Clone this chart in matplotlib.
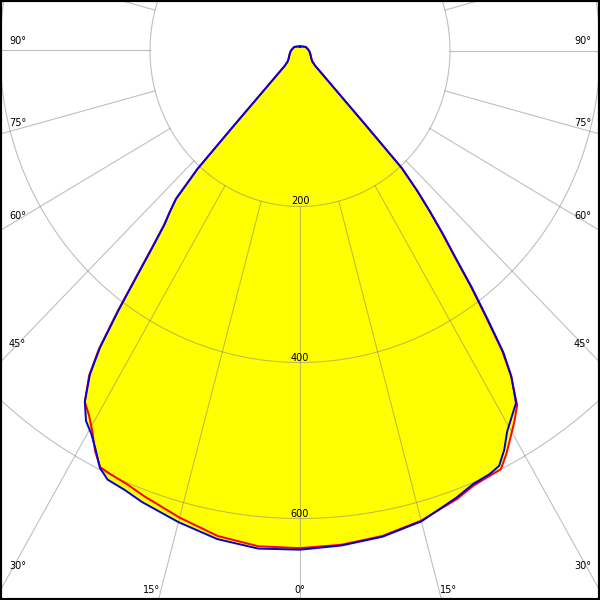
import numpy as np
import matplotlib
matplotlib.use('Agg')
import matplotlib.pyplot as plt

# gamma angles (deg, 0 = straight down) and luminous intensity (cd)
gamma = [0, 5, 10, 15, 20, 22.5, 25, 26.5, 28, 29.5, 31, 32.5, 34, 35, 36, 37, 38,
         39, 40, 41, 42, 42.5, 43.5, 46, 50, 60, 75, 90, 120, 150, 180]
blue_left = [640, 641, 636, 626, 616, 610, 607, 598, 580, 565, 554, 534, 501, 465, 412,
             359, 318, 287, 270, 252, 204, 127, 63, 28, 21, 17, 14, 12, 9, 6, 5]
blue_right = [640, 637, 633, 625, 610, 602, 599, 595, 580, 561, 548, 536, 504, 473, 425,
              381, 336, 303, 270, 238, 203, 127, 63, 28, 21, 17, 14, 12, 9, 6, 5]
red_left = [638, 638, 632, 620, 608, 602, 599, 597, 582, 562, 546, 534, 503, 468, 415,
            362, 320, 289, 270, 252, 204, 127, 63, 28, 21, 17, 14, 12, 9, 6, 5]
red_right = [638, 636, 632, 624, 612, 604, 601, 600, 586, 570, 555, 539, 503, 470, 421,
             378, 334, 301, 269, 238, 203, 127, 63, 28, 21, 17, 14, 12, 9, 6, 5]

rings = [200, 400, 600]
ring_labels = ['200', '400', '600']
angle_ticks = [0, 15, 30, 45, 60, 75, 90]

# pixel layout of the diagram (600x600 image)
CX, CY = 300.0, 50.5      # pole position in pixels
SX, SY = 0.75, 0.78       # pixels per cd, horizontal / vertical


def to_data(px, py):
    return (px - CX) / SX, (CY - py) / SY


def curve(left, right):
    g = np.radians(gamma)
    xl = -np.array(left) * np.sin(g)
    yl = -np.array(left) * np.cos(g)
    xr = np.array(right) * np.sin(g)
    yr = -np.array(right) * np.cos(g)
    x = np.concatenate([xl[::-1], xr])
    y = np.concatenate([yl[::-1], yr])
    return x, y


fig = plt.figure(figsize=(6, 6), dpi=100, facecolor='white')
ax = fig.add_axes([0, 0, 1, 1])
ax.set_xlim(-CX / SX, (600 - CX) / SX)
ax.set_ylim(-(600 - CY) / SY, CY / SY)
ax.set_xticks([])
ax.set_yticks([])
for s in ax.spines.values():
    s.set_linewidth(3)
    s.set_color('black')

xb, yb = curve(blue_left, blue_right)
xr, yr = curve(red_left, red_right)

# yellow fill
ax.fill(xb, yb, color='#ffff00', lw=0, zorder=1)
ax.fill(xr, yr, color='#ffff00', lw=0, zorder=1)

# grid: rings and radial lines (outside the first ring)
grid_kw = dict(color='#808080', alpha=0.5, lw=0.8, zorder=2)
t = np.linspace(0, 2 * np.pi, 721)
for r in rings:
    ax.plot(r * np.sin(t), -r * np.cos(t), **grid_kw)
for a in range(0, 360, 15):
    ar = np.radians(a)
    rr = np.array([rings[0], 1500])
    ax.plot(rr * np.sin(ar), -rr * np.cos(ar), **grid_kw)

# curves
ax.plot(xr, yr, color='#ff0000', lw=1.4, zorder=3)
ax.plot(xb, yb, color='#0000e0', lw=1.4, zorder=4)

# ring labels
for r, lab in zip(rings, ring_labels):
    x, y = to_data(CX, CY + r * SY - 2)
    ax.text(x, y, lab, fontsize=7, ha='center', va='baseline', zorder=5)

# angle labels along the frame
for a in angle_ticks:
    ar = np.radians(a)
    for side in (-1, 1):
        if a == 0:
            x, y = to_data(CX, 593)
            ax.text(x, y, '0°', fontsize=7, ha='center', va='baseline', zorder=5)
            break
        edge = 9 if side < 0 else 591
        r_side = abs(edge - CX) / (SX * np.sin(ar))
        py = CY + SY * r_side * np.cos(ar)
        if py <= 593:
            x, y = to_data(edge, py - 6)
            ax.text(x, y, f'{a}°', fontsize=7, ha='left' if side < 0 else 'right',
                    va='baseline', zorder=5)
        else:
            r_bot = (593 - CY) / (SY * np.cos(ar))
            px = CX + side * SX * r_bot * np.sin(ar)
            x, y = to_data(px, 593)
            ax.text(x, y, f'{a}°', fontsize=7, ha='right' if side < 0 else 'left',
                    va='baseline', zorder=5)

fig.savefig('out.png', dpi=100, facecolor='white')
